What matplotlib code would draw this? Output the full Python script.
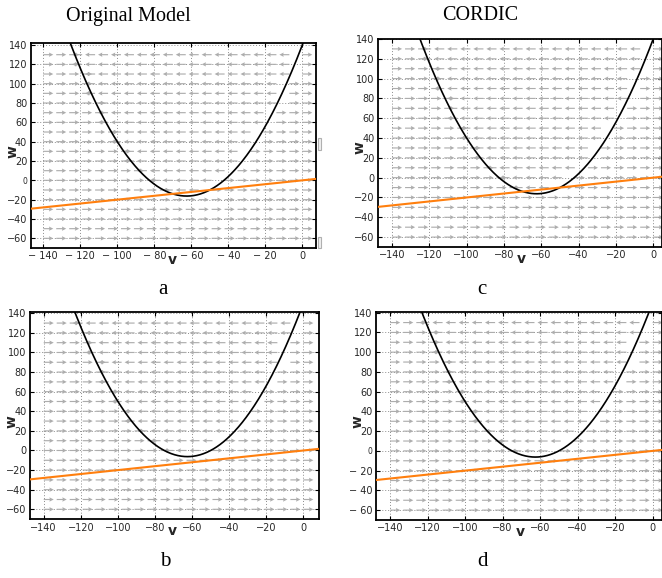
import numpy as np
import matplotlib
matplotlib.use("Agg")
import matplotlib.pyplot as plt
from matplotlib.patches import Rectangle

# ---- data ----
panel_letters = ["a", "b", "c", "d"]
column_titles = ["Original Model", "CORDIC"]
# parabola (v-nullcline) coefficients: w = c2*v^2 + c1*v + c0
quad_coef_top = [0.04, 5.0, 140.0]
quad_coef_bottom = [0.04, 5.0, 150.0]
# linear (w-nullcline) slope: w = slope*v
line_slope = 0.2
# quiver grid
arrow_v = np.linspace(-140, 0, 21)
arrow_w = np.arange(-60, 131, 10)
arrow_len = 5.4
x_ticks = [-140, -120, -100, -80, -60, -40, -20, 0]
y_ticks = [-60, -40, -20, 0, 20, 40, 60, 80, 100, 120, 140]

W, H = 662, 578
fig = plt.figure(figsize=(W / 100, H / 100), dpi=100)

def frac(left, right, top, bottom):
    return [left / W, 1 - bottom / H, (right - left) / W, (bottom - top) / H]

panels = {
    "a": dict(rect=frac(30.7, 316, 42.7, 248), xlim=(-146.8, 7.4), ylim=(-70, 142.4),
              coef=quad_coef_top, xsp=True, ysp=False),
    "b": dict(rect=frac(30, 319.3, 311.7, 519.3), xlim=(-147.4, 8.6), ylim=(-70.2, 141.6),
              coef=quad_coef_bottom, xsp=False, ysp=False),
    "c": dict(rect=frac(378, 662, 39, 247), xlim=(-147.5, 4.7), ylim=(-70, 140),
              coef=quad_coef_top, xsp=False, ysp=False),
    "d": dict(rect=frac(376, 662, 311.7, 520), xlim=(-147.5, 5.0), ylim=(-70, 141),
              coef=quad_coef_bottom, xsp=False, ysp=True),
}

txt_color = "#262626"

def fmt(v, spaced):
    if v < 0:
        return ("\u2212 " if spaced else "\u2212") + str(abs(v))
    return str(v)

for key in panel_letters:
    p = panels[key]
    ax = fig.add_axes(p["rect"])
    ax.set_xlim(*p["xlim"])
    ax.set_ylim(*p["ylim"])
    c2, c1, c0 = p["coef"]
    # grid
    for xv in x_ticks:
        ax.axvline(xv, color="#8c8c8c", lw=0.7, ls=(0, (1, 2)), zorder=1)
    for yv in y_ticks:
        ax.axhline(yv, color="#8c8c8c", lw=0.7, ls=(0, (1, 2)), zorder=1)
    # quiver
    V, Wg = np.meshgrid(arrow_v, arrow_w)
    dv = c2 * V ** 2 + c1 * V + c0 - Wg
    U = np.sign(dv) * arrow_len
    U[U == 0] = arrow_len
    ax.quiver(V, Wg, U, np.zeros_like(U), angles="xy", scale_units="xy", scale=1,
              color="#adadad", width=0.004, headwidth=3.8, headlength=3.8,
              headaxislength=3.4, zorder=2)
    # nullclines
    vv = np.linspace(-160, 20, 800)
    ax.plot(vv, c2 * vv ** 2 + c1 * vv + c0, color="black", lw=1.2, zorder=4)
    ax.plot(vv, line_slope * vv, color="#ff7f0e", lw=1.5, zorder=5)
    # ticks
    ax.set_xticks(x_ticks)
    ax.set_yticks(y_ticks)
    ax.set_xticklabels([fmt(v, p["xsp"]) for v in x_ticks])
    ax.set_yticklabels([fmt(v, p["ysp"]) for v in y_ticks])
    ax.tick_params(direction="in", length=3, width=0.8, top=True, right=True,
                   labelsize=7, colors=txt_color, pad=2.5)
    ax.tick_params(axis="both", color="black")
    if key in ("a", "d"):
        for lab in ax.get_yticklabels():
            if lab.get_text() == "0":
                lab.set_fontsize(5.5)
    for s in ax.spines.values():
        s.set_linewidth(1.3)
        s.set_color("black")
    # axis labels placed at custom positions
    yr = p["ylim"][1] - p["ylim"][0]
    ax.text(-70.5, p["ylim"][0] - yr * 0.024, "v", ha="center", va="top",
            fontsize=10, fontweight="bold", color=txt_color)
    ax.text(p["xlim"][0] - (p["xlim"][1] - p["xlim"][0]) * 0.065, 30, "w", rotation=90,
            ha="center", va="center", fontsize=10, fontweight="bold", color=txt_color)

# column titles
fig.text(128 / W, 1 - 16 / H, column_titles[0], ha="center", va="center",
         fontsize=14.5, family="Liberation Serif")
fig.text(480 / W, 1 - 16 / H, column_titles[1], ha="center", va="center",
         fontsize=14.5, family="Liberation Serif")
# panel letters
letter_pos = {"a": (163, 290), "c": (482, 290), "b": (165, 562), "d": (483, 562)}
for k, (x, y) in letter_pos.items():
    fig.text(x / W, 1 - y / H, k, ha="center", va="center", fontsize=15,
             family="Liberation Serif")

# small gray artifacts at the right edge of panel a
for (x0, y0, x1, y1) in [(318, 138, 321, 150), (318, 237, 321, 248)]:
    fig.add_artist(Rectangle((x0 / W, 1 - y1 / H), (x1 - x0) / W, (y1 - y0) / H,
                             transform=fig.transFigure, facecolor="#f0f0f0",
                             edgecolor="#b0b0b0", lw=0.8))

fig.savefig("out.png", dpi=100)
